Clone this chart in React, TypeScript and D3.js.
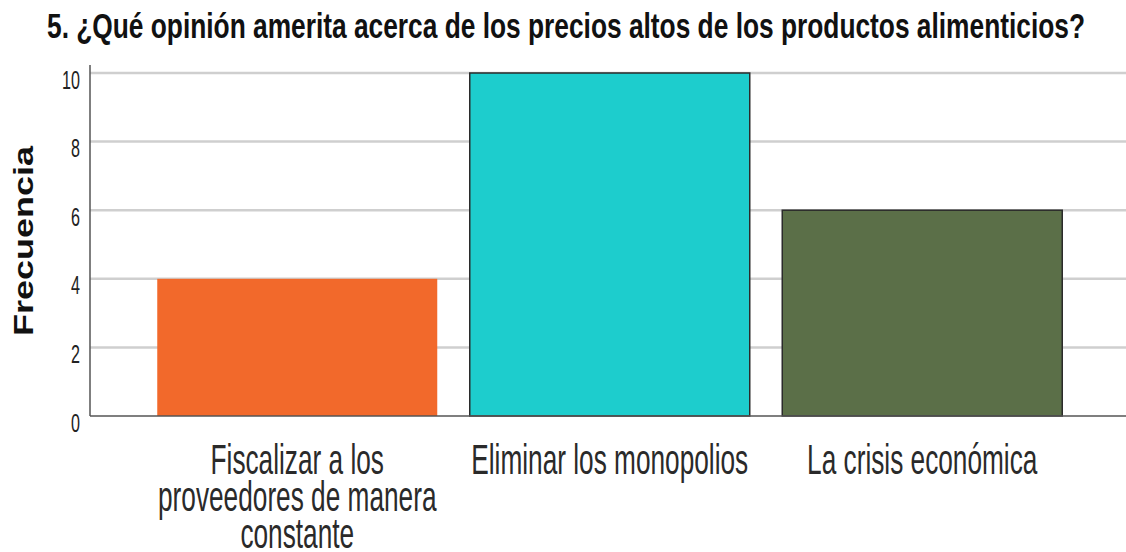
import { useEffect, useRef } from 'react';
import * as d3 from 'd3';

const title = "5. ¿Qué opinión amerita acerca de los precios altos de los productos alimenticios?";
const yLabel = "Frecuencia";
const categories = ["Fiscalizar a los proveedores de manera constante", "Eliminar los monopolios", "La crisis económica"];
const categoryLines = [
  ["Fiscalizar a los", "proveedores de manera", "constante"],
  ["Eliminar los monopolios"],
  ["La crisis económica"],
];
const frequencies = [4, 10, 6];
const barColors = ["#F2692B", "#1DCDCD", "#5B6F48"];
const barStrokes = ["none", "#2b2b2b", "#2b2b2b"];
const yTicks = [0, 2, 4, 6, 8, 10];

export default function App() {
  const svgRef = useRef<SVGSVGElement>(null);

  useEffect(() => {
    if (!svgRef.current) return;
    const svg = d3.select(svgRef.current);
    svg.selectAll("*").remove();

    const W = 1126, H = 552;
    const axisX = 90, baseY = 416, topY = 73;
    const font = "'Liberation Sans', Arial, sans-serif";

    const x = d3.scaleBand<string>()
      .domain(categories)
      .range([141, 1078.5])
      .paddingInner(0.104)
      .paddingOuter(0.052);
    const y = d3.scaleLinear().domain([0, 10]).range([baseY, topY]);

    svg.append("rect").attr("width", W).attr("height", H).attr("fill", "#fff");

    // title
    svg.append("text")
      .attr("x", 47)
      .attr("y", 38)
      .attr("textLength", 1038)
      .attr("lengthAdjust", "spacingAndGlyphs")
      .style("font-family", font)
      .style("font-weight", "bold")
      .style("font-size", "35px")
      .attr("fill", "#111")
      .text(title);

    // gridlines
    svg.append("g")
      .selectAll("line")
      .data(yTicks.filter(t => t > 0))
      .enter()
      .append("line")
      .attr("x1", axisX)
      .attr("x2", W)
      .attr("y1", d => y(d))
      .attr("y2", d => y(d))
      .attr("stroke", "#cfcfcf")
      .attr("stroke-width", 2.5);

    // bars
    svg.append("g")
      .selectAll("rect")
      .data(frequencies)
      .enter()
      .append("rect")
      .attr("x", (_, i) => x(categories[i])!)
      .attr("y", d => y(d))
      .attr("width", x.bandwidth())
      .attr("height", d => baseY - y(d))
      .attr("fill", (_, i) => barColors[i])
      .attr("stroke", (_, i) => barStrokes[i])
      .attr("stroke-width", 1.5);

    // y axis
    const yAxis = svg.append("g")
      .attr("transform", `translate(${axisX},0)`)
      .call(d3.axisLeft(y).tickValues(yTicks).tickSize(0).tickPadding(0).tickFormat(d3.format("d")));
    yAxis.select(".domain").remove();
    yAxis.selectAll<SVGTextElement, number>(".tick text")
      .attr("x", 0)
      .attr("dy", "0.35em")
      .attr("transform", "translate(-10,6) scale(0.62,1)")
      .style("font-family", font)
      .style("font-size", "26px")
      .attr("fill", "#222");

    svg.append("line")
      .attr("x1", axisX).attr("x2", axisX)
      .attr("y1", 65).attr("y2", baseY)
      .attr("stroke", "#555").attr("stroke-width", 1.5);

    // x axis
    const xAxis = svg.append("g")
      .attr("transform", `translate(0,${baseY})`)
      .call(d3.axisBottom(x).tickSize(0).tickFormat(() => ""));
    xAxis.select(".domain")
      .attr("d", `M${axisX},0H${W}`)
      .attr("stroke", "#555")
      .attr("stroke-width", 1.5);
    xAxis.selectAll<SVGGElement, string>(".tick").each(function (_, i) {
      const g = d3.select(this);
      g.select("text").remove();
      const t = g.append("text")
        .attr("transform", "translate(0,58) scale(0.61,1)")
        .attr("text-anchor", "middle")
        .style("font-family", font)
        .style("font-size", "43px")
        .attr("fill", "#2a2a2a");
      categoryLines[i].forEach((line, j) => {
        t.append("tspan").attr("x", 0).attr("dy", j === 0 ? 0 : 37).text(line);
      });
    });

    // y label
    svg.append("text")
      .attr("transform", `translate(33,241) rotate(-90) scale(1,0.77)`)
      .attr("text-anchor", "middle")
      .style("font-family", font)
      .style("font-weight", "bold")
      .style("font-size", "36px")
      .attr("fill", "#111")
      .text(yLabel);
  }, []);

  return (
    <svg
      ref={svgRef}
      width={1126}
      height={552}
      style={{ position: "absolute", left: 0, top: 0, display: "block" }}
    />
  );
}
